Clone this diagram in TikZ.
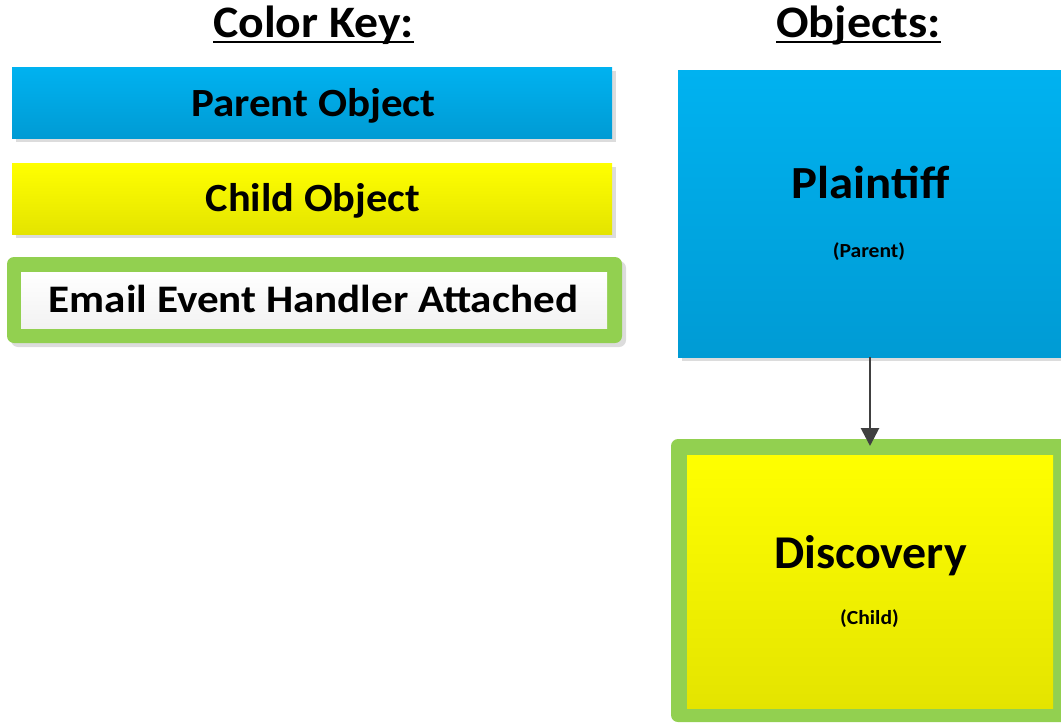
\documentclass[tikz,border=0pt]{standalone}
\usepackage{fontspec}
\setmainfont{Carlito}
\usetikzlibrary{arrows.meta}
\definecolor{blueT}{HTML}{00B2F0}
\definecolor{blueB}{HTML}{009BD4}
\definecolor{yelT}{HTML}{FFFF00}
\definecolor{yelB}{HTML}{E4E400}
\definecolor{grn}{HTML}{92D050}
\definecolor{shd}{HTML}{DCDCDC}
\definecolor{arr}{HTML}{404040}
\newcommand{\wide}[2]{\scalebox{#1}[1]{#2}}
\tikzset{
  box/.style={draw=none, inner sep=0pt, outer sep=0pt, rectangle},
  bluebox/.style={box, top color=blueT, bottom color=blueB},
  yelbox/.style={box, top color=yelT, bottom color=yelB},
  whitebox/.style={box, top color=white, bottom color=black!5},
  grnframe/.style={box, fill=grn, rounded corners=7pt},
  shadowbox/.style={box, fill=shd},
  lbl/.style={anchor=base, inner sep=0pt, font=\bfseries},
  ttl/.style={anchor=base, inner sep=0pt, font=\bfseries\fontsize{45}{50}\selectfont},
  uline/.style={line width=2.6pt, black},
  conn/.style={draw=arr, line width=2.8pt, -{Triangle[length=18pt,width=18pt]}}
}
\begin{document}
\begin{tikzpicture}[x=1pt,y=-1pt]
\useasboundingbox (0,0) rectangle (1061,723);
\clip (0,0) rectangle (1061,723);
% titles
\node[ttl] (ck) at (313.5,37) {\wide{1.06}{Color Key:}};
\draw[uline] ([yshift=-5pt]ck.base west) -- ([yshift=-5pt]ck.base east);
\node[ttl] (ob) at (858.5,37) {\wide{1.07}{Objects:}};
\draw[uline] ([yshift=-5pt]ob.base west) -- ([yshift=-5pt]ob.base east);
% key: parent
\node[shadowbox, minimum width=600pt, minimum height=71pt] (pks) at (316,106.5) {};
\node[bluebox, minimum width=600pt, minimum height=71pt] (pk) at (312,102.5) {};
\node[lbl, font=\bfseries\fontsize{40}{44}\selectfont] (pkt) at (313.5,116) {\wide{1.075}{Parent Object}};
% key: child
\node[shadowbox, minimum width=600pt, minimum height=71pt] (cks) at (316,202.5) {};
\node[yelbox, minimum width=600pt, minimum height=71pt] (ckb) at (312,198.5) {};
\node[lbl, font=\bfseries\fontsize{40}{44}\selectfont] (ckt) at (313,211) {\wide{1.06}{Child Object}};
% key: email
\node[shadowbox, rounded corners=7pt, minimum width=615pt, minimum height=86pt] (eks) at (318.5,304) {};
\node[grnframe, minimum width=615pt, minimum height=86pt] (ek) at (314.5,300) {};
\node[whitebox, minimum width=586pt, minimum height=56pt] (eki) at (314,300) {};
\node[lbl, font=\bfseries\fontsize{39}{44}\selectfont] (ekt) at (313.5,312) {\wide{1.105}{Email Event Handler Attached}};
% plaintiff
\node[shadowbox, minimum width=384pt, minimum height=287pt] (pls) at (874,217.5) {};
\node[bluebox, minimum width=384pt, minimum height=287pt] (pl) at (870,213.5) {};
\node[lbl, font=\bfseries\fontsize{46}{50}\selectfont] (plt) at (870.5,198) {\wide{1.06}{Plaintiff}};
\node[lbl, font=\bfseries\fontsize{20}{22}\selectfont] (plp) at (869,257) {\wide{1.08}{(Parent)}};
% discovery
\node[grnframe, minimum width=398pt, minimum height=283pt] (ds) at (870,580.5) {};
\node[yelbox, minimum width=366pt, minimum height=253pt] (dsi) at (870,581.5) {};
\node[lbl, font=\bfseries\fontsize{47}{50}\selectfont] (dst) at (870.5,568) {\wide{1.02}{Discovery}};
\node[lbl, font=\bfseries\fontsize{20}{22}\selectfont] (dsc) at (869.5,624) {\wide{1.08}{(Child)}};
% connector
\draw[conn] (pl.south) -- ([yshift=-7pt]ds.north);
\end{tikzpicture}
\end{document}
